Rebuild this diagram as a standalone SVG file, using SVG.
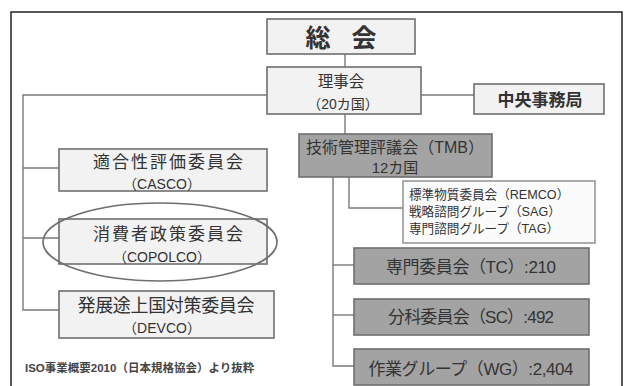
<svg xmlns="http://www.w3.org/2000/svg" width="626" height="386" viewBox="0 0 626 386">
<style>
text{font-family:"Liberation Sans","Noto Sans CJK JP",sans-serif;fill:#333;text-anchor:middle}
.st{text-anchor:start}
.lt{fill:#f2f2f2;stroke:#6e6e6e;stroke-width:1.6}
.dk{fill:#a3a3a3;stroke:#6e6e6e;stroke-width:1.6}
.wt{fill:#fbfbfb;stroke:#8a8a8a;stroke-width:1.4}
.ln{fill:none;stroke:#7a7a7a;stroke-width:1.4}
</style>
<rect x="0" y="0" width="626" height="386" fill="#fff"/>
<path d="M11 390 V12 H622 V390" fill="none" stroke="#222" stroke-width="1.5"/>
<g id="connectors" class="ln">
<path d="M345 54 V67"/>
<path d="M267 95 H23 V310 H59"/>
<path d="M23 168 H59"/>
<path d="M23 238 H59"/>
<path d="M421 95 H474"/>
<path d="M345 114 V134"/>
<path d="M333 177 V366 H354"/>
<path d="M333 265 H354"/>
<path d="M333 315 H354"/>
<path d="M349 177 V208 H403"/>
</g>
<g id="soukai"><rect class="lt" x="267" y="19" width="148" height="35"/><text x="318" y="47" font-size="25" font-weight="bold">総</text><text x="364" y="47" font-size="25" font-weight="bold">会</text></g>
<g id="rijikai"><rect class="lt" x="267" y="67" width="154" height="47"/><text x="341" y="87" font-size="15.5">理事会</text><text x="343" y="109" font-size="14">（20カ国）</text></g>
<g id="chuo"><rect class="lt" x="474" y="84" width="130" height="30"/><text x="540" y="106" font-size="17" font-weight="bold">中央事務局</text></g>
<g id="casco"><rect class="lt" x="59" y="149" width="208" height="42"/><text x="168" y="168" font-size="17" textLength="150">適合性評価委員会</text><text x="162" y="189" font-size="14">（CASCO）</text></g>
<g id="copolco"><rect class="lt" x="59" y="219" width="208" height="45"/><text x="168" y="240" font-size="17" textLength="150">消費者政策委員会</text><text x="162" y="262" font-size="14">（COPOLCO）</text><ellipse cx="160" cy="242" rx="117" ry="39" fill="none" stroke="#6e6e6e" stroke-width="1.6"/></g>
<g id="devco"><rect class="lt" x="59" y="291" width="215" height="47"/><text x="166" y="312" font-size="18" textLength="177">発展途上国対策委員会</text><text x="162" y="333" font-size="14">（DEVCO）</text></g>
<g id="tmb"><rect class="dk" x="299" y="134" width="193" height="43"/><text x="395" y="153" font-size="16" textLength="178">技術管理評議会（TMB）</text><text x="395" y="173" font-size="15">12カ国</text></g>
<g id="remco"><rect class="wt" x="403" y="181" width="192" height="62"/><text class="st" x="409" y="199" font-size="12.6">標準物質委員会（REMCO）</text><text class="st" x="409" y="216" font-size="12.6">戦略諮問グループ（SAG）</text><text class="st" x="409" y="233" font-size="12.6">専門諮問グループ（TAG）</text></g>
<g id="tc"><rect class="dk" x="354" y="248" width="235" height="36"/><text x="471" y="273" font-size="17" textLength="170">専門委員会（TC）:210</text></g>
<g id="sc"><rect class="dk" x="354" y="299" width="235" height="36"/><text x="471" y="323" font-size="17" textLength="166">分科委員会（SC）:492</text></g>
<g id="wg"><rect class="dk" x="354" y="349" width="235" height="36"/><text x="471" y="375" font-size="17" textLength="205">作業グループ（WG）:2,404</text></g>
<text class="st" x="25" y="372" font-size="11.5" font-weight="bold" style="fill:#444">ISO事業概要2010（日本規格協会）より抜粋</text>
</svg>
